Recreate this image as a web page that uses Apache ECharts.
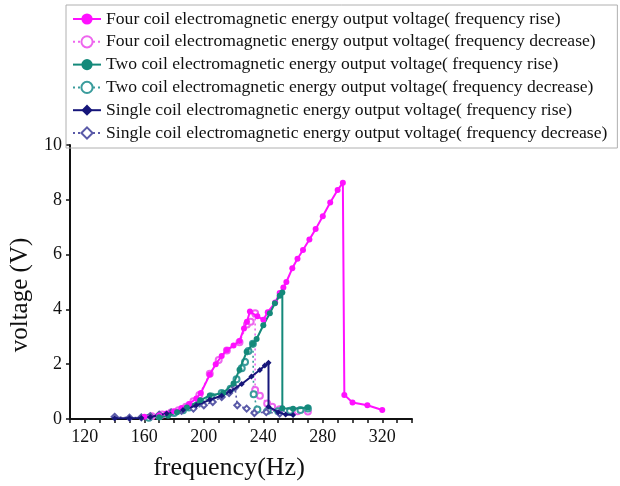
<!DOCTYPE html>
<html><head><meta charset="utf-8">
<script src="https://cdn.jsdelivr.net/npm/echarts@6/dist/echarts.min.js"></script>
<style>html,body{margin:0;padding:0;background:#fff}#c{width:620px;height:486px}</style>
</head><body><div id="c"></div>
<script>
var seriesNames = [
  "Four coil electromagnetic energy output voltage( frequency rise)",
  "Four coil electromagnetic energy output voltage( frequency decrease)",
  "Two coil electromagnetic energy output voltage( frequency rise)",
  "Two coil electromagnetic energy output voltage( frequency decrease)",
  "Single coil electromagnetic energy output voltage( frequency rise)",
  "Single coil electromagnetic energy output voltage( frequency decrease)"
];
var xTickLabels = [120, 160, 200, 240, 280, 320];
var yTickLabels = [0, 2, 4, 6, 8, 10];

var fourRise = [[160,0.08],[170,0.13],[175,0.2],[180,0.28],[185,0.4],[190,0.55],[195,0.75],[198,0.95],[204,1.62],[208,2.0],[212,2.3],[215.5,2.52],[220,2.68],[224,2.85],[227,3.3],[229,3.55],[231,3.92],[236,3.75],[240,3.62],[243,3.9],[248,4.25],[251,4.6],[253.5,4.8],[255.5,5.0],[259.5,5.5],[263,5.85],[266.7,6.17],[271,6.55],[275.2,6.93],[280,7.4],[285,7.9],[290,8.36],[293.5,8.62],[294.5,0.88],[300,0.6],[310,0.5],[320,0.33]];
var fourDec = [[165,0.1],[172,0.16],[178,0.24],[183,0.32],[188,0.45],[193,0.65],[197,0.88],[204,1.65],[210,2.15],[215.5,2.5],[224,2.8],[229,3.45],[231.5,3.55],[234.5,3.86],[234.5,1.06],[237.7,0.85],[242.6,0.57],[246,0.45],[251,0.36],[258,0.3],[263,0.28],[270,0.27]];
var twoRise = [[170,0.06],[176,0.12],[182,0.25],[188.6,0.42],[197.6,0.68],[204,0.86],[213,0.95],[220,1.3],[224,1.8],[228.8,2.45],[233,2.75],[235.5,2.92],[240,3.42],[244.4,3.86],[247.8,4.22],[251,4.5],[252.8,4.62],[252.8,0.39],[260,0.37],[270,0.42]];
var twoDec = [[163,0.05],[170,0.1],[180,0.22],[186,0.32],[190,0.42],[198,0.6],[205,0.82],[212,0.95],[218,1.1],[222,1.45],[225.5,1.85],[227.7,2.08],[230,2.48],[233,2.75],[233.5,0.9],[236,0.35],[243,0.3],[250,0.28],[258,0.3],[265,0.33],[270,0.38]];
var oneRise = [[140,0.03],[150,0.03],[158,0.04],[164,0.07],[175,0.2],[186,0.33],[195,0.5],[204,0.7],[212,0.85],[217.7,1.0],[225.5,1.28],[232,1.55],[237.7,1.79],[241,1.95],[243.5,2.05],[243.5,0.45],[250,0.25],[255,0.16],[260,0.15]];
var oneDec = [[140,0.08],[150,0.05],[158,0.06],[164,0.1],[170,0.16],[178,0.24],[185,0.3],[193,0.38],[200,0.5],[206,0.62],[212,0.8],[217,0.95],[221,1.15],[222.5,0.5],[228.8,0.38],[234,0.22],[242,0.25],[251,0.2]];

var colors = ['#ff10ff', '#ee66ee', '#14897a', '#3a9c9c', '#16167a', '#5a5aa8'];
var dataList = [fourRise, fourDec, twoRise, twoDec, oneRise, oneDec];
var symbols = ['circle', 'emptyCircle', 'circle', 'emptyCircle', 'diamond', 'emptyDiamond'];
var serif = 'Liberation Serif';

var series = dataList.map(function (d, i) {
  var rise = i % 2 === 0;
  return {
    name: seriesNames[i],
    type: 'line',
    data: d,
    symbol: symbols[i],
    symbolSize: 6,
    showAllSymbol: true,
    lineStyle: { color: colors[i], width: rise ? 2 : 1.6, type: rise ? 'solid' : [2, 3] },
    itemStyle: { color: colors[i], borderColor: colors[i], borderWidth: rise ? 0 : 1.2 },
    emphasis: { disabled: true },
    animation: false,
    z: rise ? 3 : 2
  };
});

var chart = echarts.init(document.getElementById('c'), null, { renderer: 'canvas' });
chart.setOption({
  backgroundColor: '#fff',
  animation: false,
  color: colors,
  legend: {
    orient: 'vertical',
    left: 66, top: 5,
    width: 552,
    padding: [5, 10, 6, 6],
    itemGap: 4.8,
    itemWidth: 28, itemHeight: 14,
    borderColor: '#b0b0b0', borderWidth: 1,
    textStyle: { fontFamily: serif, fontSize: 17.6, color: '#111' },
    data: seriesNames
  },
  grid: { left: 69, right: 208, top: 145, bottom: 67 },
  xAxis: {
    type: 'value', min: 110, max: 340, interval: 10,
    name: 'frequency(Hz)', nameLocation: 'middle', nameGap: 36,
    nameTextStyle: { fontFamily: serif, fontSize: 26, color: '#111', padding: [0, 24, 0, 0] },
    axisLine: { show: true, lineStyle: { color: '#111', width: 2 } },
    axisTick: { show: true, length: 4, lineStyle: { color: '#111', width: 1.5 } },
    axisLabel: {
      interval: 0, fontFamily: serif, fontSize: 18, color: '#111', margin: 9,
      formatter: function (v) { return xTickLabels.indexOf(v) >= 0 ? String(v) : ''; }
    },
    splitLine: { show: false }
  },
  yAxis: {
    type: 'value', min: 0, max: 10, interval: 2,
    name: 'voltage (V)', nameLocation: 'middle', nameGap: 37,
    nameTextStyle: { fontFamily: serif, fontSize: 25, color: '#111', padding: [0, 26, 0, 0] },
    axisLine: { show: true, lineStyle: { color: '#111', width: 2 } },
    axisTick: { show: true, length: 4, lineStyle: { color: '#111', width: 1.5 } },
    axisLabel: {
      fontFamily: serif, fontSize: 18, color: '#111', margin: 8,
      formatter: function (v) { return yTickLabels.indexOf(v) >= 0 ? String(v) : ''; }
    },
    splitLine: { show: false }
  },
  series: series
});
</script>
</body></html>
